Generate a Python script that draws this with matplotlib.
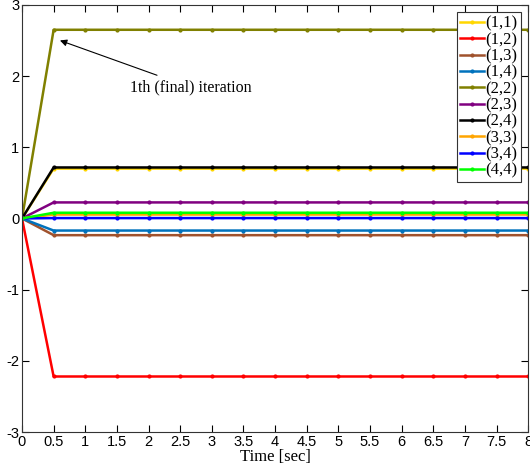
import numpy as np
from matplotlib import pyplot as plt

plt.rcParams['axes.unicode_minus'] = False
plt.rcParams['font.family'] = 'Liberation Sans'

t = np.arange(0, 8.01, 0.5)

labels = ['(1,1)', '(1,2)', '(1,3)', '(1,4)', '(2,2)', '(2,3)', '(2,4)', '(3,3)', '(3,4)', '(4,4)']
finals = [0.70, -2.22, -0.235, -0.17, 2.65, 0.225, 0.716, 0.055, 0.005, 0.08]
colors = ['#FFD700', '#FF0000', '#A0522D', '#0072BD', '#808000',
          '#800080', '#000000', '#FFA500', '#0000FF', '#00FF00']

fig = plt.figure(figsize=(5.3, 4.72), dpi=100)
ax = fig.add_axes([0.0415, 0.0847, 0.955, 0.905])

for i in range(len(labels)):
  y = np.full(len(t), finals[i])
  y[0] = 0.0
  ax.plot(t, y, color=colors[i], lw=1.8, marker='.', ms=4, label=labels[i])

ax.set_xlim(0, 8)
ax.set_ylim(-3, 3)
ax.set_xticks(np.arange(0, 8.01, 0.5))
ax.set_xticklabels(['0', '0.5', '1', '1.5', '2', '2.5', '3', '3.5', '4', '4.5',
                    '5', '5.5', '6', '6.5', '7', '7.5', '8'])
ax.set_yticks(np.arange(-3, 4, 1))
ax.tick_params(direction='in', top=True, right=True, labelsize=10.5, pad=2, length=5)
for s in ax.spines.values():
  s.set_linewidth(0.8)
  s.set_color('#333333')
ax.set_xlabel('Time [sec]', family='Liberation Serif', fontsize=12, labelpad=0)

ax.annotate('1th (final) iteration', xy=(0.60, 2.5), xytext=(1.71, 1.84),
            family='Liberation Serif', fontsize=11.5, va='center', ha='left',
            arrowprops=dict(arrowstyle='-|>', color='black', lw=0.8,
                            shrinkA=3, shrinkB=0, mutation_scale=10))

leg = ax.legend(loc='upper right', prop={'family': 'Liberation Serif', 'size': 12},
                fancybox=False, edgecolor='#333333', framealpha=1,
                handlelength=1.4, handletextpad=0.1, labelspacing=0.02,
                borderpad=0.2, borderaxespad=0.45)
leg.get_frame().set_linewidth(0.8)

plt.savefig('out.png', dpi=100)
